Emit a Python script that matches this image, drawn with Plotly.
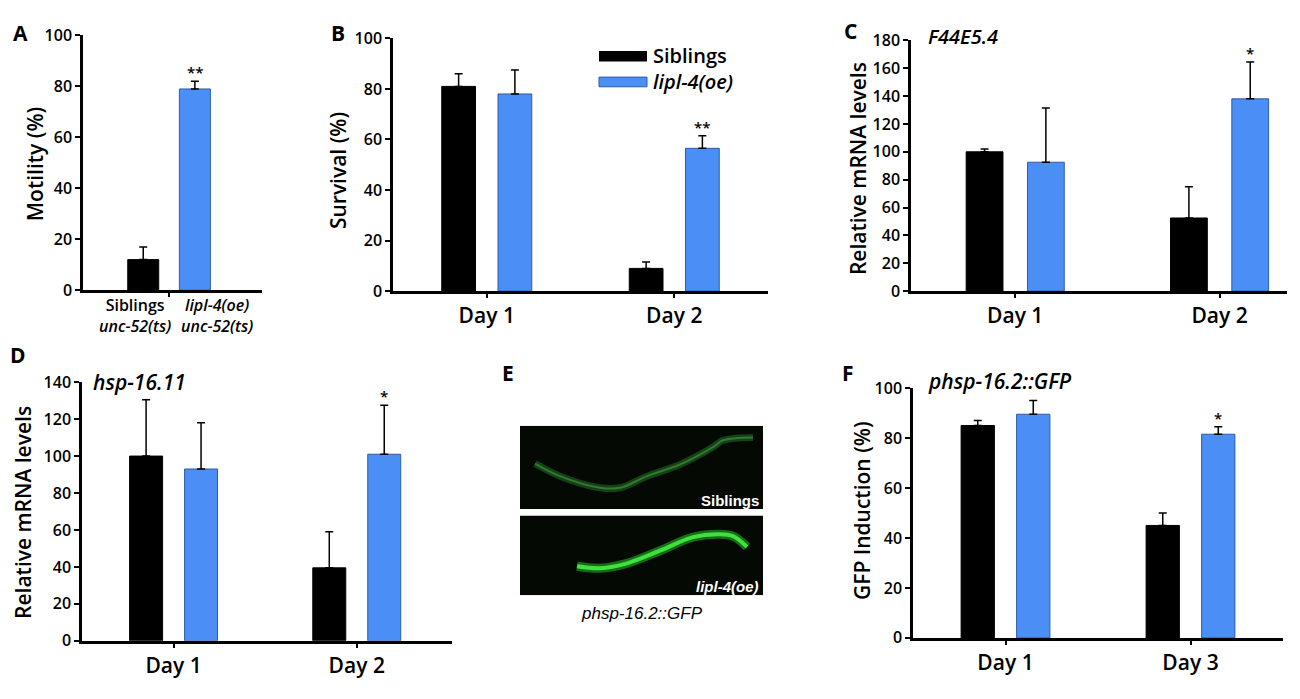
import plotly.graph_objects as go

W, H = 1300, 699

# ================= data =================
days_bc = ["Day 1", "Day 2"]
days_f = ["Day 1", "Day 3"]

# A - motility
motility_groups = ["Siblings<br><i>unc-52(ts)</i>", "<i>lipl-4(oe)</i><br><i>unc-52(ts)</i>"]
motility = [12, 79]
motility_err = [5, 3]

# B - survival
survival_sib = [81, 9]
survival_sib_err = [5, 2.5]
survival_oe = [78, 56.5]
survival_oe_err = [9.5, 5]

# C - F44E5.4
f44_sib = [100, 52.5]
f44_sib_err = [2, 22.5]
f44_oe = [92.5, 138]
f44_oe_err = [39, 26.5]

# D - hsp-16.11
hsp_sib = [100, 39.5]
hsp_sib_err = [30.5, 19.5]
hsp_oe = [93, 101]
hsp_oe_err = [25, 26.5]

# F - phsp-16.2::GFP
gfp_sib = [85, 45]
gfp_sib_err = [2, 5]
gfp_oe = [89.5, 81.5]
gfp_oe_err = [5.5, 3]

# E - worm outlines in the two micrographs (image pixel coords)
worm_sib_x = [15, 40, 80, 100, 127, 160, 193, 203, 233]
worm_sib_y = [39, 52, 64, 64, 52, 40, 22, 15, 12]
worm_oe_x = [57, 80, 107, 140, 173, 200, 213, 227]
worm_oe_y = [145, 147, 142, 129, 115, 112, 114, 125]
# =========================================

BLACK = "#000000"
BLUE = "#4a8ef6"
BLUE_EDGE = "#2c5da5"
FONT = "Open Sans"
BW = 0.18  # bar width
PAGE = 8   # page margin of the browser around the figure


def px_x(p):
    return (p - PAGE) / W


def px_y(p):
    return 1 - (p - PAGE) / H


def add_bar(fig, x, y, err, color, edge, offset, n):
    fig.add_trace(go.Bar(
        x=x, y=y, offset=offset, width=BW,
        xaxis="x" + n, yaxis="y" + n,
        marker=dict(color=color, line=dict(color=edge, width=1)),
        error_y=dict(type="data", array=err, symmetric=False,
                     arrayminus=[0] * len(err), color="black",
                     thickness=1.5, width=4),
        showlegend=False, hoverinfo="x+y"))


fig = go.Figure()

# A
add_bar(fig, [0], [motility[0]], [motility_err[0]], BLACK, BLACK, -0.24, "")
add_bar(fig, [0], [motility[1]], [motility_err[1]], BLUE, BLUE_EDGE, 0.06, "")
# B
add_bar(fig, days_bc, survival_sib, survival_sib_err, BLACK, BLACK, -0.24, "2")
add_bar(fig, days_bc, survival_oe, survival_oe_err, BLUE, BLUE_EDGE, 0.06, "2")
# C
add_bar(fig, days_bc, f44_sib, f44_sib_err, BLACK, BLACK, -0.24, "3")
add_bar(fig, days_bc, f44_oe, f44_oe_err, BLUE, BLUE_EDGE, 0.06, "3")
# D
add_bar(fig, days_bc, hsp_sib, hsp_sib_err, BLACK, BLACK, -0.24, "4")
add_bar(fig, days_bc, hsp_oe, hsp_oe_err, BLUE, BLUE_EDGE, 0.06, "4")
# F
add_bar(fig, days_f, gfp_sib, gfp_sib_err, BLACK, BLACK, -0.24, "6")
add_bar(fig, days_f, gfp_oe, gfp_oe_err, BLUE, BLUE_EDGE, 0.06, "6")

# E - micrograph stand-ins
fig.add_trace(go.Scatter(x=worm_sib_x, y=worm_sib_y, xaxis="x5", yaxis="y5",
                         mode="lines", line=dict(color="rgba(40,120,40,0.5)", width=7, shape="spline"),
                         showlegend=False, hoverinfo="skip"))
fig.add_trace(go.Scatter(x=worm_sib_x, y=worm_sib_y, xaxis="x5", yaxis="y5",
                         mode="lines", line=dict(color="rgba(70,170,70,0.55)", width=2, shape="spline"),
                         showlegend=False, hoverinfo="skip"))
fig.add_trace(go.Scatter(x=worm_oe_x, y=worm_oe_y, xaxis="x5", yaxis="y5",
                         mode="lines", line=dict(color="rgba(30,150,30,0.7)", width=9, shape="spline"),
                         showlegend=False, hoverinfo="skip"))
fig.add_trace(go.Scatter(x=worm_oe_x, y=worm_oe_y, xaxis="x5", yaxis="y5",
                         mode="lines", line=dict(color="#3ee03e", width=4, shape="spline"),
                         showlegend=False, hoverinfo="skip"))


def yaxis_cfg(top_px, bot_px, rng, anchor):
    return dict(domain=[px_y(bot_px), px_y(top_px)], range=rng, dtick=20,
                anchor=anchor, showline=True, linewidth=2.5, linecolor="black",
                ticks="outside", ticklen=5, tickwidth=2, tickcolor="black",
                showgrid=False, zeroline=False, fixedrange=True,
                tickfont=dict(family=FONT, size=16, color="black", weight=600))


def xaxis_cfg(l_px, r_px, rng, anchor, cat=True):
    d = dict(domain=[px_x(l_px), px_x(r_px)], range=rng, anchor=anchor,
             showline=True, linewidth=2.5, linecolor="black",
             ticks="outside", ticklen=4, tickwidth=1.5, tickcolor="black",
             showgrid=False, zeroline=False, fixedrange=True,
             tickfont=dict(family=FONT, size=21, color="black", weight=600))
    if cat:
        d["type"] = "category"
    return d


xa = xaxis_cfg(83, 262, [-0.5, 0.54], "y", cat=False)
xa.update(tickvals=[0], ticktext=[""])

fig.update_layout(
    width=W, height=H, margin=dict(l=0, r=0, t=0, b=0),
    paper_bgcolor="white", plot_bgcolor="white",
    barmode="overlay", showlegend=False,
    font=dict(family=FONT, color="black"),
    xaxis=xa,
    yaxis=yaxis_cfg(25, 288, [0, 100], "x"),
    xaxis2=xaxis_cfg(393, 768, [-0.5, 1.5], "y2"),
    yaxis2=yaxis_cfg(28, 289, [0, 100], "x2"),
    xaxis3=xaxis_cfg(911, 1287, [-0.51, 1.33], "y3"),
    yaxis3=yaxis_cfg(30, 289, [0, 180], "x3"),
    xaxis4=xaxis_cfg(82, 452, [-0.5, 1.52], "y4"),
    yaxis4=yaxis_cfg(383, 650, [0, 140], "x4"),
    xaxis5=dict(domain=[px_x(520), px_x(763)], range=[0, 243], anchor="y5",
                visible=False, fixedrange=True),
    yaxis5=dict(domain=[px_y(603), px_y(428)], range=[175, 0], anchor="x5",
                visible=False, fixedrange=True),
    xaxis6=xaxis_cfg(913, 1283, [-0.5, 1.5], "y6"),
    yaxis6=yaxis_cfg(389, 647, [0, 100], "x6"),
)

# micrograph backgrounds
shapes = [
    dict(type="rect", xref="x5", yref="y5", x0=0, x1=243, y0=0, y1=86,
         fillcolor="#040904", line=dict(width=0), layer="below"),
    dict(type="rect", xref="x5", yref="y5", x0=0, x1=243, y0=93, y1=175,
         fillcolor="#040904", line=dict(width=0), layer="below"),
    # legend swatches for B
    dict(type="rect", xref="paper", yref="paper", x0=px_x(599), x1=px_x(647),
         y0=px_y(52), y1=px_y(41), fillcolor=BLACK, line=dict(width=0)),
    dict(type="rect", xref="paper", yref="paper", x0=px_x(599), x1=px_x(647),
         y0=px_y(78), y1=px_y(68), fillcolor=BLUE, line=dict(color=BLUE_EDGE, width=1)),
]
fig.update_layout(shapes=shapes)

ann = []


def paper_text(text, x, y, size, xanchor="center", angle=0, italic=False, bold=False,
               color="black", family=FONT, weight=600):
    if italic:
        text = "<i>" + text + "</i>"
    if bold:
        text = "<b>" + text + "</b>"
    ann.append(dict(text=text, xref="paper", yref="paper", x=px_x(x), y=px_y(y),
                    xanchor=xanchor, yanchor="middle", textangle=angle, showarrow=False,
                    align="center",
                    font=dict(family=family, size=size, color=color, weight=weight)))


# panel letters
for letter, lx, ly in [("A", 20, 22), ("B", 338, 22), ("C", 850, 20),
                       ("D", 18, 355), ("E", 508, 373), ("F", 848, 373)]:
    paper_text(letter, lx, ly, 21, bold=True)

# y-axis titles
paper_text("Motility (%)", 35, 158, 21, angle=-90)
paper_text("Survival (%)", 338, 165, 21, angle=-90)
paper_text("Relative mRNA levels", 858, 163, 21, angle=-90)
paper_text("Relative mRNA levels", 23, 518, 21, angle=-90)
paper_text("GFP Induction (%)", 862, 516, 21, angle=-90)

# gene titles
paper_text("F44E5.4", 926, 26, 20, xanchor="left", italic=True)
paper_text("hsp-16.11", 91, 383, 21, xanchor="left", italic=True)
paper_text("phsp-16.2::GFP", 926, 382, 21, xanchor="left", italic=True)

# legend text for B
paper_text("Siblings", 651, 46, 20, xanchor="left")
paper_text("lipl-4(oe)", 651, 73, 20, xanchor="left", italic=True)

# A group labels under the bars
paper_text(motility_groups[0], 173, 314, 16, xanchor="right")
paper_text(motility_groups[1], 179, 314, 16, xanchor="left")

# E labels
ann.append(dict(text="<b>Siblings</b>", xref="x5", yref="y5", x=241, y=77,
                xanchor="right", yanchor="middle", showarrow=False,
                font=dict(family="Liberation Sans", size=15, color="white")))
ann.append(dict(text="<b><i>lipl-4(oe)</i></b>", xref="x5", yref="y5", x=241, y=166,
                xanchor="right", yanchor="middle", showarrow=False,
                font=dict(family="Liberation Sans", size=15, color="white")))
paper_text("phsp-16.2::GFP", 642, 622, 17, italic=True, family="Liberation Sans", weight=400)


# significance stars above the lipl-4(oe) bars
def star(text, n, xpos, top):
    ann.append(dict(text=text, xref="x" + n, yref="y" + n, x=xpos, y=top,
                    xanchor="center", yanchor="bottom", yshift=-3, showarrow=False,
                    font=dict(family=FONT, size=15, color="black", weight=600)))


star("**", "", 0.15, motility[1] + motility_err[1])
star("**", "2", 1.15, survival_oe[1] + survival_oe_err[1])
star("*", "3", 1.15, f44_oe[1] + f44_oe_err[1])
star("*", "4", 1.15, hsp_oe[1] + hsp_oe_err[1])
star("*", "6", 1.15, gfp_oe[1] + gfp_oe_err[1])

fig.update_layout(annotations=ann)

fig.write_html("out.html")
